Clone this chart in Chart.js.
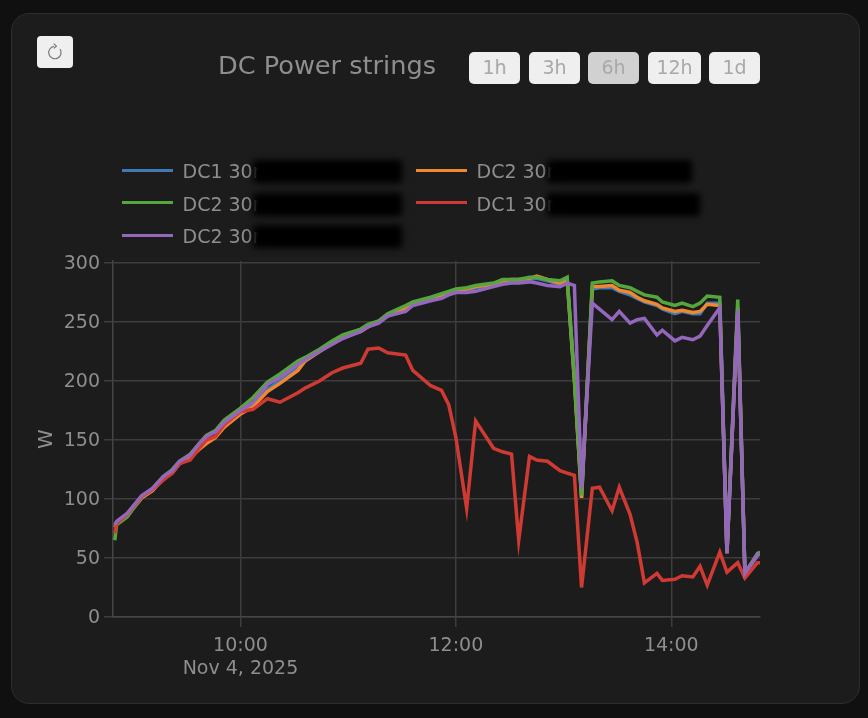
<!DOCTYPE html>
<html><head><meta charset="utf-8">
<style>
html,body{margin:0;padding:0;width:868px;height:718px;overflow:hidden;background:#101010;font-family:"DejaVu Sans",sans-serif}
#card{position:absolute;left:11px;top:13px;width:847px;height:689px;background:#1c1c1c;border:1px solid #2d2d2d;border-radius:18px}
canvas{position:absolute;left:0;top:0}
#title{position:absolute;left:218px;top:50px;font-size:25.6px;line-height:30px;color:#8e8e8e;white-space:nowrap}
.btn{position:absolute;top:52px;height:32px;background:#efefef;border-radius:5px;color:#a8a8a8;font-size:19px;line-height:30px;text-align:center;box-sizing:border-box}
.btn.on{background:#d1d1d1}
#reset{position:absolute;left:37px;top:36px;width:36px;height:32px;background:#efefef;border-radius:4px}
.ll{position:absolute;height:3px;width:51px}
.lt{position:absolute;font-size:19px;line-height:24px;color:#8e8e8e;white-space:nowrap}
.blk{position:absolute;background:#000;filter:blur(3px);border-radius:3px}
</style></head><body>
<div id="card"></div>
<canvas id="c" width="868" height="718"></canvas>
<div id="title">DC Power strings</div>
<div id="reset"><svg width="36" height="32" viewBox="0 0 36 32"><path d="M17 10.4A6.2 6.2 0 1 0 23 13" fill="none" stroke="#777" stroke-width="1.2"/><path d="M16.8 7.6L19.4 10.2L16.8 12.4" fill="none" stroke="#777" stroke-width="1.2"/></svg></div>
<div id="legend"></div>
<script src="https://cdn.jsdelivr.net/npm/chart.js@4"></script>
<script>
const seriesNames = ["DC1 30m", "DC2 30m", "DC2 30m", "DC1 30m", "DC2 30m"];
const seriesColors = ["#3f7ab5", "#f0882f", "#55a63c", "#cf3a33", "#9467bd"];
const rangeButtons = ["1h", "3h", "6h", "12h", "1d"];
const yTicks = [0, 50, 100, 150, 200, 250, 300];
const xTicks = [600, 720, 840];
const dateLabel = "Nov 4, 2025";
// minutes after midnight
const times = [530,531,537,545,551,557,562,566,572,577,581,586,591,600,607,615,622,632,636,644,651,657,667,671,677,682,692,696,706,712,716,720,726,731,741,746,751,755,761,765,771,778,782,786,790,796,800,807,811,817,821,825,832,835,842,846,852,856,860,867,871,877,881,888,889.5];
const dc1a = [76,79,86,101,107,117,122,130,135,143,149,153,162,173,180,193,200,211,217,225,232,237,242,246,250,255,261,265,269,272,274,276,277,279,281,284,285,285,286,287,285,282,285,201,101,278,279,279,276,273,270,267,264,261,257,259,257,257,266,266,54,261,37,52,54];
const dc2a = [76,79,86,101,107,117,122,130,135,142,147,152,161,172,178,191,198,209,217,225,232,237,242,246,250,256,262,266,270,273,275,277,278,280,282,285,286,286,287,289,286,283,286,201,101,280,280,281,277,275,271,268,265,262,259,260,258,259,265,264,54,262,37,53,54];
const dc2b = [65,78,85,102,109,119,125,132,138,147,154,158,167,177,186,199,206,217,220,227,234,239,244,248,251,257,264,267,271,274,276,278,279,281,283,286,286,286,288,288,286,285,288,203,103,283,284,285,281,279,276,273,271,267,264,266,263,266,272,271,54,269,37,54,55];
const dc1b = [71,79,87,102,108,116,122,130,133,143,150,153,163,174,176,185,182,190,194,200,207,211,215,227,228,224,222,209,196,192,180,152,92,166,143,140,138,65,136,133,132,124,122,120,25,109,110,90,110,87,63,29,37,31,32,35,34,43,27,55,38,46,33,46,46];
const dc2c = [78,81,88,103,109,119,124,132,137,147,153,157,165,175,182,197,203,214,218,225,231,236,242,246,249,255,259,264,268,270,273,275,275,276,280,282,283,283,284,283,281,280,283,281,109,266,261,252,259,249,252,253,239,243,234,237,235,238,247,262,54,260,37,53,54];

const allSeries = [dc1a, dc2a, dc2b, dc1b, dc2c];
const fmt = m => String(Math.floor(m/60)).padStart(2,"0") + ":" + String(m%60).padStart(2,"0");
const FONT = '"DejaVu Sans", sans-serif';
const TXT = "#8e8e8e", GRID = "#3d3d3d", AXIS = "#454545";

const chart = new Chart(document.getElementById("c"), {
  type: "line",
  data: { datasets: allSeries.map((vals, i) => ({
    label: seriesNames[i],
    data: vals.map((v, k) => ({ x: times[k], y: v })),
    borderColor: seriesColors[i],
    backgroundColor: seriesColors[i],
    borderWidth: 3.5, pointRadius: 0, tension: 0, fill: false,
    order: allSeries.length - i
  })) },
  options: {
    responsive: false, animation: false, devicePixelRatio: 1,
    layout: { padding: { left: 35, right: 108, top: 261, bottom: 0 } },
    plugins: { legend: { display: false }, tooltip: { enabled: false }, title: { display: false } },
    scales: {
      x: {
        type: "linear", min: 529, max: 889.4,
        afterBuildTicks: s => { s.ticks = xTicks.map(v => ({ value: v })); },
        afterFit: s => { s.height = 101; },
        ticks: { color: TXT, font: { family: FONT, size: 19, lineHeight: 1.22 }, padding: 7, maxRotation: 0, autoSkip: false,
          callback: v => v === xTicks[0] ? [fmt(v), dateLabel] : fmt(v) },
        grid: { color: GRID, lineWidth: 1.5, tickLength: 10, tickColor: GRID },
        border: { color: AXIS, width: 1.5 }
      },
      y: {
        type: "linear", min: 0, max: 301.7,
        afterBuildTicks: s => { s.ticks = yTicks.map(v => ({ value: v })); },
        afterFit: s => { s.width = 78; },
        title: { display: true, text: "W", color: TXT, font: { family: FONT, size: 20 }, padding: 0 },
        ticks: { color: TXT, font: { family: FONT, size: 19 }, padding: 4, autoSkip: false, labelOffset: 1 },
        grid: { color: GRID, lineWidth: 1.5, tickLength: 9, tickColor: GRID },
        border: { color: AXIS, width: 1.5 }
      }
    }
  }
});

// range buttons
const btnBoxes = [[469,51],[529,51],[588,51],[648,53],[709,51]];
rangeButtons.forEach((t, i) => {
  const d = document.createElement("div");
  d.className = "btn" + (t === "6h" ? " on" : "");
  d.textContent = t;
  d.style.left = btnBoxes[i][0] + "px";
  d.style.width = btnBoxes[i][1] + "px";
  document.body.appendChild(d);
});
// legend
const legendPos = [[122,170],[416,170],[122,202.5],[416,202.5],[122,235]];
const blackW = [149,145,149,153,149];
const lg = document.getElementById("legend");
chart.data.datasets.forEach((ds, i) => {
  const [x, y] = legendPos[i];
  lg.insertAdjacentHTML("beforeend",
    `<div class="ll" style="left:${x}px;top:${y-1.5}px;background:${ds.borderColor}"></div>` +
    `<div class="lt" style="left:${x+60.5}px;top:${y-11}px">${ds.label}</div>` +
    `<div class="blk" style="left:${x+131}px;top:${y-10}px;width:${blackW[i]}px;height:23px"></div>`);
});
</script>
</body></html>
